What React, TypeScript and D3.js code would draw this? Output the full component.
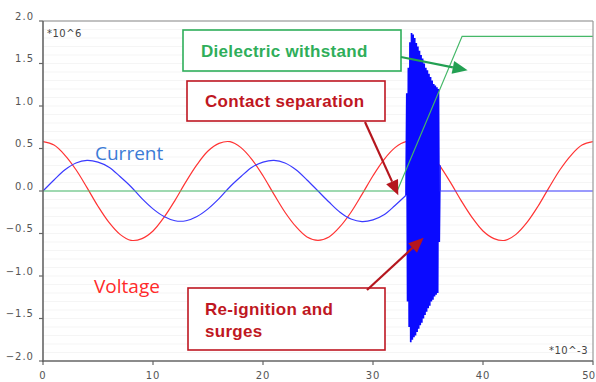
import * as d3 from "d3";

// time axis in ms (*10^-3), values in *10^6
const sampleTimes = d3.range(0, 51); // 1 ms steps

const voltage = [
  0.58, 0.54, 0.42, 0.25, 0.04, -0.18, -0.37, -0.51, -0.58, -0.56, -0.47,
  -0.31, -0.11, 0.11, 0.31, 0.47, 0.56, 0.58, 0.51, 0.37, 0.18, -0.04,
  -0.25, -0.42, -0.54, -0.58, -0.54, -0.42, -0.25, -0.04, 0.18, 0.37,
  0.51, 0.58, 0.56, 0.47, 0.31, 0.11, -0.11, -0.31, -0.47, -0.56, -0.58,
  -0.51, -0.37, -0.18, 0.04, 0.25, 0.42, 0.54, 0.58,
];

// current before contact separation (0..33 ms)
const currentBefore = [
  0, 0.13, 0.25, 0.33, 0.36, 0.34, 0.28, 0.17, 0.05, -0.09, -0.21, -0.3,
  -0.35, -0.35, -0.3, -0.21, -0.09, 0.05, 0.17, 0.28, 0.34, 0.36, 0.33,
  0.25, 0.13, 0, -0.13, -0.25, -0.33, -0.36, -0.34, -0.28, -0.17, -0.05,
];

// re-ignition burst peaks
const burstStart = 33.0;
const burstStep = 0.072;
const burstPeaks = [
  -0.05, 1.15, -1.3, 1.45, -1.6, 1.75, -1.78, 1.86, -1.75, 1.84, -1.72, 1.8,
  -1.7, 1.74, -1.66, 1.7, -1.62, 1.65, -1.58, 1.6, -1.55, 1.56, -1.5, 1.5,
  -1.46, 1.45, -1.42, 1.42, -1.38, 1.38, -1.35, 1.34, -1.3, 1.3, -1.28, 1.26,
  -1.24, 1.24, -1.22, 1.22, -1.2, 1.2, -0.6, 0.3,
];

const currentAfterTimes = [36.12, 50];
const currentAfter = [0, 0];

const withstandTimes = [0, 32.2, 38.1, 50];
const withstand = [0, 0, 1.82, 1.82];

const xTicks = [0, 10, 20, 30, 40, 50];
const yTicks = [-2, -1.5, -1, -0.5, 0, 0.5, 1, 1.5, 2];

const W = 596;
const H = 382;

export default function App() {
  const x = d3.scaleLinear().domain([0, 50]).range([43, 593]);
  const y = d3.scaleLinear().domain([-2, 2]).range([361, 21]);

  const smooth = d3
    .line<[number, number]>()
    .x((d) => x(d[0]))
    .y((d) => y(d[1]))
    .curve(d3.curveCatmullRom);
  const straight = d3
    .line<[number, number]>()
    .x((d) => x(d[0]))
    .y((d) => y(d[1]));

  const voltagePts = voltage.map((v, i) => [sampleTimes[i], v] as [number, number]);
  const beforePts = currentBefore.map((v, i) => [sampleTimes[i], v] as [number, number]);
  const burstPts = burstPeaks.map((v, i) => [burstStart + i * burstStep, v] as [number, number]);
  const afterPts = currentAfter.map((v, i) => [currentAfterTimes[i], v] as [number, number]);
  const withstandPts = withstand.map((v, i) => [withstandTimes[i], v] as [number, number]);

  const grid = d3.range(-20, 21).map((d) => d / 10);
  const fmt = d3.format(".1f");

  const green = "#2fae5a";
  const darkRed = "#bf1722";

  // arrow helper
  const arrow = (x1: number, y1: number, x2: number, y2: number, color: string, key: string) => {
    const a = Math.atan2(y2 - y1, x2 - x1);
    const len = 15;
    const wd = 6.5;
    const bx = x2 - len * Math.cos(a);
    const by = y2 - len * Math.sin(a);
    const px = -Math.sin(a) * wd;
    const py = Math.cos(a) * wd;
    return (
      <g key={key}>
        <line x1={x1} y1={y1} x2={bx} y2={by} stroke={color} strokeWidth={2.2} />
        <polygon
          points={`${x2},${y2} ${bx + px},${by + py} ${bx - px},${by - py}`}
          fill={color}
        />
      </g>
    );
  };

  const boxFont = "'Liberation Sans', Arial, sans-serif";

  return (
    <svg
      width={W}
      height={H}
      style={{ position: "absolute", left: 0, top: 0, background: "#fff" }}
    >
      <rect x={0} y={0} width={W} height={H} fill="#fff" />
      {/* faint background bands */}
      {grid.map((g) => (
        <line key={g} x1={x(0)} x2={x(50)} y1={y(g)} y2={y(g)} stroke="#f5f5f5" strokeWidth={1} />
      ))}

      {/* curves */}
      <path d={smooth(voltagePts) || ""} fill="none" stroke="#ff3333" strokeWidth={1.2} />
      <path d={smooth(beforePts) || ""} fill="none" stroke="#3a3aff" strokeWidth={1.2} />
      <path d={straight(burstPts) || ""} fill="none" stroke="#0a0aff" strokeWidth={1.7} strokeLinejoin="bevel" />
      <path
        d={straight([burstPts[burstPts.length - 1], ...afterPts]) || ""}
        fill="none"
        stroke="#3a3aff"
        strokeWidth={1.2}
      />
      <path d={straight(withstandPts) || ""} fill="none" stroke="#45b868" strokeWidth={1.2} />

      {/* frame */}
      <line x1={x(0)} x2={x(50)} y1={y(2)} y2={y(2)} stroke="#888" strokeWidth={1.2} />
      <line x1={x(50)} x2={x(50)} y1={y(2)} y2={y(-2)} stroke="#999" strokeWidth={1.2} />
      <line x1={x(0)} x2={x(0)} y1={y(2)} y2={y(-2) + 1} stroke="#666" strokeWidth={1.6} />
      <line x1={x(0) - 1} x2={x(50)} y1={y(-2)} y2={y(-2)} stroke="#666" strokeWidth={1.6} />

      {yTicks.map((t) => (
        <g key={"y" + t}>
          <line x1={x(0) - 4} x2={x(0)} y1={y(t)} y2={y(t)} stroke="#666" strokeWidth={1.2} />
          <text
            x={34}
            y={y(t) - 5}
            dy="0.35em"
            textAnchor="end"
            fontFamily="'DejaVu Sans', sans-serif"
            fontSize={10}
            letterSpacing={1}
            fill="#555"
          >
            {fmt(t)}
          </text>
        </g>
      ))}
      {xTicks.map((t) => (
        <g key={"x" + t}>
          <line x1={x(t)} x2={x(t)} y1={y(-2)} y2={y(-2) + 4} stroke="#666" strokeWidth={1.2} />
          <text
            x={t === 50 ? W - 1 : x(t)}
            y={379}
            textAnchor={t === 50 ? "end" : "middle"}
            fontFamily="'DejaVu Sans', sans-serif"
            fontSize={10}
            letterSpacing={t === 50 ? 0 : 1}
            fill="#555"
          >
            {t}
          </text>
        </g>
      ))}

      <text x={47} y={37} fontFamily="'DejaVu Sans', sans-serif" fontSize={10} letterSpacing={0.5} fill="#444">
        *10^6
      </text>
      <text x={588} y={354} textAnchor="end" fontFamily="'DejaVu Sans', sans-serif" fontSize={10} letterSpacing={0.5} fill="#444">
        *10^-3
      </text>

      {/* series labels */}
      <text x={95} y={160} fontFamily="'Open Sans', sans-serif" fontSize={19} fill="#3b7bd6">
        Current
      </text>
      <text x={94} y={293} fontFamily="'Open Sans', sans-serif" fontSize={19} fill="#ff2a2a">
        Voltage
      </text>

      {/* annotation boxes */}
      <rect x={183} y={30} width={218} height={41} fill="#fff" stroke={green} strokeWidth={1.6} />
      <text x={201} y={57} fontFamily={boxFont} fontWeight="bold" fontSize={17} letterSpacing={0.3} fill={green}>
        Dielectric withstand
      </text>

      <rect x={187} y={81} width={198} height={40} fill="#fff" stroke={darkRed} strokeWidth={1.6} />
      <text x={205} y={107} fontFamily={boxFont} fontWeight="bold" fontSize={17} letterSpacing={0.3} fill={darkRed}>
        Contact separation
      </text>

      <rect x={188} y={288} width={197} height={62} fill="#fff" stroke={darkRed} strokeWidth={1.6} />
      <text x={205} y={315} fontFamily={boxFont} fontWeight="bold" fontSize={17} letterSpacing={0.3} fill={darkRed}>
        Re-ignition and
      </text>
      <text x={205} y={337} fontFamily={boxFont} fontWeight="bold" fontSize={17} letterSpacing={0.3} fill={darkRed}>
        surges
      </text>

      {/* arrows */}
      {arrow(401, 57, x(38.6), y(1.42), "#22a052", "a1")}
      {arrow(365, 122, x(32.3), y(-0.05), "#b5161e", "a2")}
      {arrow(367, 290, x(34.6), y(-0.55), "#b5161e", "a3")}
    </svg>
  );
}
